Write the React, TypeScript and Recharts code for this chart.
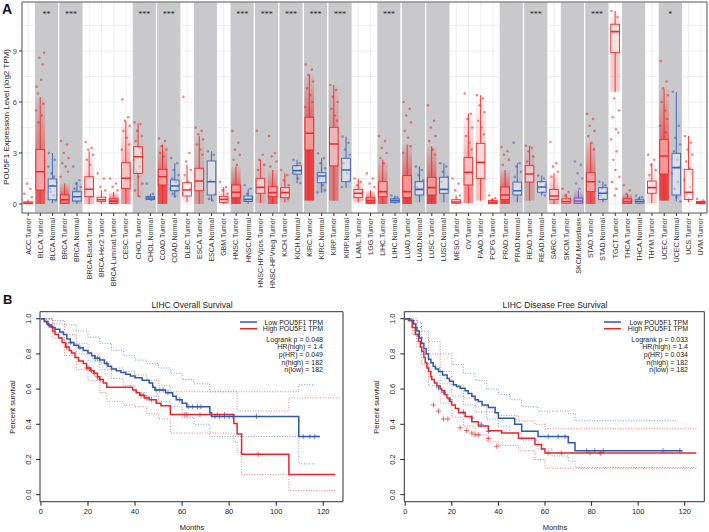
import React from "react";
import { ComposedChart, Bar, Line, Scatter, XAxis, YAxis, CartesianGrid, ReferenceArea } from "recharts";

const FONT = '"Liberation Sans", Arial, sans-serif';

// ---- Panel A: POU5F1 expression across TCGA types ----
const cancerTypes = [
  "ACC.Tumor", "BLCA.Tumor", "BLCA.Normal", "BRCA.Tumor", "BRCA.Normal", "BRCA-Basal.Tumor", "BRCA-Her2.Tumor",
  "BRCA-Luminal.Tumor", "CESC.Tumor", "CHOL.Tumor", "CHOL.Normal", "COAD.Tumor", "COAD.Normal", "DLBC.Tumor",
  "ESCA.Tumor", "ESCA.Normal", "GBM.Tumor", "HNSC.Tumor", "HNSC.Normal", "HNSC-HPVpos.Tumor", "HNSC-HPVneg.Tumor",
  "KICH.Tumor", "KICH.Normal", "KIRC.Tumor", "KIRC.Normal", "KIRP.Tumor", "KIRP.Normal", "LAML.Tumor", "LGG.Tumor",
  "LIHC.Tumor", "LIHC.Normal", "LUAD.Tumor", "LUAD.Normal", "LUSC.Tumor", "LUSC.Normal", "MESO.Tumor", "OV.Tumor",
  "PAAD.Tumor", "PCPG.Tumor", "PRAD.Tumor", "PRAD.Normal", "READ.Tumor", "READ.Normal", "SARC.Tumor", "SKCM.Tumor",
  "SKCM.Metastasis", "STAD.Tumor", "STAD.Normal", "TGCT.Tumor", "THCA.Tumor", "THCA.Normal", "THYM.Tumor",
  "UCEC.Tumor", "UCEC.Normal", "UCS.Tumor", "UVM.Tumor",
];
const lowWhisker = [0, 0, 0.05, 0, 0.02, 0, 0, 0, 0, 0.43, 0.25, 0, 0.4, 0.1, 0, 0.2, 0, 0, 0.02, 0.05, 0, 0.1, 1.22, 0.2, 0.67, 0.2, 0.96, 0.1, 0, 0, 0.02, 0, 0.1, 0, 0.1, 0, 0.05, 0.2, 0, 0, 0.1, 0.2, 0.5, 0, 0, 0, 0, 0.1, 6.6, 0, 0, 0.05, 0.2, 0.15, 0.1, 0];
const q1 = [0.02, 0.82, 0.25, 0.06, 0.18, 0.43, 0.15, 0.05, 0.92, 1.8, 0.27, 1.12, 0.78, 0.47, 0.78, 0.53, 0.1, 0.37, 0.15, 0.63, 0.43, 0.37, 1.76, 3.18, 1.25, 2.24, 1.31, 0.37, 0.08, 0.43, 0.1, 0.39, 0.53, 0.53, 0.63, 0.05, 1.12, 1.51, 0.02, 0.27, 0.53, 1.29, 0.69, 0.27, 0.05, 0.05, 0.73, 0.27, 8.9, 0.05, 0.05, 0.63, 1.76, 0.53, 0.27, 0.02];
const median = [0.06, 1.9, 1.06, 0.24, 0.43, 0.87, 0.25, 0.17, 1.51, 2.78, 0.35, 1.6, 1.06, 0.82, 1.35, 1.31, 0.27, 0.69, 0.27, 0.98, 0.67, 0.67, 1.96, 4.16, 1.65, 3.53, 2.0, 0.63, 0.2, 0.73, 0.2, 0.73, 0.86, 0.96, 0.86, 0.12, 1.86, 2.45, 0.1, 0.53, 0.78, 1.76, 1.0, 0.47, 0.15, 0.18, 1.31, 0.63, 10.14, 0.15, 0.15, 0.96, 2.82, 2.14, 0.69, 0.08];
const q3 = [0.12, 3.2, 1.47, 0.53, 0.72, 1.6, 0.4, 0.3, 2.43, 3.37, 0.45, 2.04, 1.41, 1.25, 2.1, 2.53, 0.45, 1.12, 0.47, 1.51, 1.02, 0.96, 2.25, 5.1, 1.84, 4.51, 2.69, 0.86, 0.37, 1.31, 0.3, 1.67, 1.31, 1.57, 1.57, 0.25, 2.73, 3.57, 0.2, 1.0, 1.29, 2.25, 1.31, 0.86, 0.3, 0.35, 1.84, 0.96, 10.57, 0.3, 0.25, 1.35, 3.8, 2.98, 2.04, 0.15];
const highWhisker = [0.25, 6.3, 3.0, 1.2, 1.3, 3.1, 0.8, 0.7, 4.9, 4.75, 0.6, 3.5, 2.39, 2.3, 4.0, 3.1, 1.0, 2.2, 0.9, 2.6, 2.0, 1.8, 2.6, 7.6, 2.7, 7.0, 3.96, 1.5, 0.8, 2.6, 0.5, 3.5, 2.2, 3.4, 2.4, 0.5, 5.33, 6.4, 0.35, 2.0, 2.4, 3.43, 1.67, 1.8, 0.6, 0.8, 3.6, 1.31, 11.35, 0.6, 0.45, 2.4, 6.75, 6.6, 4.0, 0.2];
const sampleSize = [79, 408, 19, 1093, 112, 190, 82, 566, 304, 36, 9, 457, 41, 48, 184, 11, 153, 520, 44, 97, 421, 66, 25, 533, 72, 290, 32, 173, 516, 371, 50, 515, 59, 501, 51, 87, 303, 178, 179, 497, 52, 166, 10, 259, 103, 368, 415, 35, 150, 509, 59, 120, 545, 35, 57, 80];
const spreadPoints = [
  [0.6, 0.9, 1.2, 0.4], [6.9, 8.2, 8.6, 8.9, 6.5, 7.3, 5.9, 5.5, 5.2, 4.8], [3.0, 2.6, 1.8, 1.3, 0.9, 0.5, 0.2, 2.2, 1.6, 0.7, 1.1],
  [3.7, 3.5, 3.0, 2.7, 2.4, 2.2, 1.9, 1.6], [2.2, 1.4, 1.2, 1.0, 0.9], [3.65, 3.3, 3.2, 2.9, 2.6, 2.3],
  [1.8, 1.5, 1.0, 0.8], [1.5, 1.2, 1.0, 0.8], [6.15, 5.1, 4.9, 4.6, 4.3, 3.9, 3.5, 3.2],
  [4.8, 4.7, 4.3, 4.0, 3.7, 3.3, 3.0, 2.6, 2.2, 1.9, 1.6, 1.2, 0.8, 0.45], [1.2, 0.6, 0.4, 0.3, 0.35, 0.25],
  [3.85, 3.7, 3.4, 3.2, 3.0, 2.8], [2.7, 2.4, 2.0, 1.7, 1.5, 1.3, 1.1, 0.9, 0.8, 0.6, 0.45],
  [6.3, 3.0, 2.5, 2.0, 1.7, 1.3, 0.9, 0.6], [4.5, 4.3, 4.1, 3.8, 3.5, 3.2, 2.9], [3.1, 2.9, 1.4, 0.6, 0.3, 0.2],
  [1.3, 1.0, 0.8, 0.6], [4.3, 3.6, 3.2, 2.9, 2.6, 2.3], [1.1, 0.9, 0.6, 0.4, 0.2], [4.3, 2.9, 2.6, 2.3, 2.0],
  [4.0, 3.0, 2.8, 2.5, 2.2], [2.0, 1.7, 1.4, 1.1, 0.8, 0.5, 0.3], [2.6, 2.4, 2.2, 2.0, 1.8, 1.5, 1.22],
  [8.2, 7.9, 7.6, 7.2, 6.8, 6.4, 6.0, 5.7], [2.98, 2.7, 2.4, 2.1, 1.5, 1.1, 0.8, 0.67], [7.0, 6.7, 6.3, 6.0, 5.6, 5.2, 4.9],
  [3.96, 3.6, 3.2, 2.9, 2.4, 1.8, 1.4, 1.0], [1.5, 1.3, 1.1], [1.8, 1.5, 1.2, 1.0], [4.0, 3.7, 3.3, 3.0, 2.7, 2.4],
  [0.5, 0.4, 0.3], [6.0, 5.6, 5.2, 4.8, 4.3, 3.9, 3.4, 3.0], [2.2, 2.0, 1.7, 1.4, 1.0], [5.8, 4.9, 4.5, 4.0, 3.7, 3.2, 2.9],
  [2.4, 2.2, 1.9, 1.6, 1.3], [1.5, 1.2, 0.8, 0.5], [6.5, 5.3, 5.0, 4.5, 4.0, 3.6, 3.2], [6.4, 6.2, 5.8, 5.4, 4.9, 4.5, 4.1],
  [0.5, 0.35, 0.25], [3.35, 3.1, 2.9, 2.6, 2.3], [3.6, 2.4, 2.2, 1.9, 1.6], [3.43, 3.3, 3.1, 2.8, 2.5],
  [1.67, 1.5, 1.3, 1.1, 0.9, 0.7, 0.5], [3.65, 2.4, 2.2, 1.9, 1.6], [0.9, 0.7, 0.5, 0.3],
  [2.5, 2.3, 1.8, 1.5, 1.2, 0.9], [5.3, 5.0, 4.6, 4.3, 4.0, 3.6, 3.2], [1.31, 1.1, 0.9, 0.7, 0.5, 0.3],
  [11.35, 11.0, 6.2, 5.5, 5.1, 4.4, 4.2, 3.8, 3.1, 2.6, 2.0, 1.6, 1.3, 0.9, 0.5], [1.1, 0.8, 0.6], [0.5, 0.4, 0.3],
  [2.9, 2.6, 2.3, 2.0, 1.7], [8.4, 7.2, 6.8, 6.4, 6.0, 5.5, 5.0, 4.6, 4.2],
  [6.6, 4.6, 3.9, 3.5, 3.1, 2.6, 2.2, 1.8, 1.3, 0.9, 0.4, 0.15],
  [4.0, 3.6, 3.2, 2.9, 2.5, 2.1, 1.8, 1.4, 1.0, 0.6, 0.3], [0.3, 0.2],
];
// tumor/normal pairs shaded grey, with significance stars
const pairs: [string, string, string][] = [
  ["BLCA.Tumor", "BLCA.Normal", "**"], ["BRCA.Tumor", "BRCA.Normal", "***"], ["CHOL.Tumor", "CHOL.Normal", "***"],
  ["COAD.Tumor", "COAD.Normal", "***"], ["ESCA.Tumor", "ESCA.Normal", ""], ["HNSC.Tumor", "HNSC.Normal", "***"],
  ["HNSC-HPVpos.Tumor", "HNSC-HPVneg.Tumor", "***"], ["KICH.Tumor", "KICH.Normal", "***"],
  ["KIRC.Tumor", "KIRC.Normal", "***"], ["KIRP.Tumor", "KIRP.Normal", "***"], ["LIHC.Tumor", "LIHC.Normal", "***"],
  ["LUAD.Tumor", "LUAD.Normal", ""], ["LUSC.Tumor", "LUSC.Normal", ""], ["PRAD.Tumor", "PRAD.Normal", ""],
  ["READ.Tumor", "READ.Normal", "***"], ["SKCM.Tumor", "SKCM.Metastasis", ""], ["STAD.Tumor", "STAD.Normal", "***"],
  ["THCA.Tumor", "THCA.Normal", ""], ["UCEC.Tumor", "UCEC.Normal", "*"],
];
const exprTicks = [0, 3, 6, 9];
const exprGrid = [0, 1.5, 3, 4.5, 6, 7.5, 9, 10.5];

// ---- Panel B: LIHC survival (months, survival) ----
const osLow: [number, number][] = [[0, 1], [1.5, 0.985], [3, 0.965], [4.5, 0.95], [6, 0.94], [8, 0.925], [9.5, 0.91], [11, 0.885], [12.5, 0.865], [14, 0.85], [16, 0.835], [18, 0.82], [20, 0.805], [21.5, 0.79], [23, 0.775], [25, 0.765], [27, 0.745], [28.5, 0.73], [30, 0.715], [32, 0.705], [34, 0.695], [36, 0.685], [38, 0.675], [40, 0.665], [43, 0.65], [46, 0.635], [47.5, 0.61], [48.5, 0.595], [53, 0.58], [56, 0.56], [57.5, 0.54], [60, 0.52], [62, 0.5], [71.8, 0.465], [72.5, 0.445], [109.6, 0.33], [118.6, 0.33]];
const osHigh: [number, number][] = [[0, 1], [1.5, 0.985], [2.5, 0.97], [3.5, 0.955], [5, 0.93], [6, 0.91], [7.5, 0.89], [9, 0.865], [10.5, 0.84], [12, 0.82], [13, 0.805], [14.5, 0.78], [16, 0.76], [18, 0.745], [19.4, 0.72], [21, 0.705], [22.5, 0.69], [24, 0.67], [25, 0.655], [26.5, 0.635], [28, 0.61], [39, 0.595], [40.5, 0.58], [42, 0.565], [44, 0.55], [46, 0.54], [49, 0.52], [51, 0.505], [55, 0.455], [82, 0.405], [83.4, 0.345], [85.3, 0.23], [105.4, 0.115], [125, 0.115]];
const osLowUp: [number, number][] = [[0, 1], [5, 0.99], [10, 0.965], [15, 0.93], [20, 0.895], [25, 0.86], [30, 0.82], [35, 0.79], [40, 0.765], [45, 0.745], [50, 0.72], [55, 0.69], [60, 0.655], [65, 0.63], [71.8, 0.585], [109.6, 0.625], [116.5, 0.625]];
const osLowDn: [number, number][] = [[0, 1], [5, 0.92], [10, 0.86], [15, 0.8], [20, 0.76], [25, 0.71], [30, 0.66], [35, 0.62], [40, 0.58], [45, 0.56], [50, 0.53], [55, 0.5], [60, 0.44], [65, 0.4], [71.8, 0.33], [109.6, 0.175], [116.5, 0.175]];
const osHighUp: [number, number][] = [[0, 1], [5, 0.97], [10, 0.91], [15, 0.86], [20, 0.8], [25, 0.75], [28, 0.72], [35, 0.7], [40, 0.68], [45, 0.65], [50, 0.62], [55, 0.585], [83.4, 0.475], [105.4, 0.55], [127, 0.55]];
const osHighDn: [number, number][] = [[0, 1], [5, 0.89], [10, 0.79], [15, 0.71], [20, 0.65], [25, 0.58], [28, 0.53], [35, 0.51], [40, 0.5], [45, 0.46], [50, 0.43], [55, 0.35], [82, 0.3], [83.4, 0.24], [85.3, 0.115], [105.4, 0.023], [125, 0.023]];
const osLowCens: [number, number][] = [[12.5, 0.865], [16.6, 0.835], [23, 0.775], [24, 0.775], [28, 0.745], [49, 0.595], [50.5, 0.595], [52, 0.595], [54, 0.58], [59, 0.54], [62.6, 0.5], [64.5, 0.5], [66.5, 0.5], [68, 0.5], [74, 0.445], [76, 0.445], [78, 0.445], [80, 0.445], [81.6, 0.445], [91.6, 0.445], [111.5, 0.33], [114.3, 0.33], [116.4, 0.33]];
const osHighCens: [number, number][] = [[10.9, 0.84], [19.5, 0.72], [20.5, 0.72], [21.5, 0.705], [22.7, 0.69], [24, 0.67], [25.2, 0.655], [42.5, 0.565], [43.5, 0.565], [45, 0.55], [47, 0.54], [61.2, 0.455], [62, 0.455], [67.6, 0.455], [72.5, 0.455], [75, 0.455], [78, 0.455], [92.4, 0.23]];

const dfsLow: [number, number][] = [[0, 1], [2, 0.99], [3.6, 0.97], [4.5, 0.95], [5, 0.93], [6, 0.89], [7, 0.86], [8, 0.83], [9, 0.8], [10, 0.77], [11, 0.75], [12, 0.73], [13, 0.715], [14.3, 0.7], [16, 0.68], [18, 0.66], [19, 0.645], [20.7, 0.625], [22, 0.615], [23.6, 0.605], [25.7, 0.59], [27, 0.575], [28.6, 0.56], [30, 0.54], [31.4, 0.53], [33, 0.51], [35.7, 0.495], [38.6, 0.465], [40, 0.435], [47, 0.4], [50, 0.36], [57, 0.33], [70, 0.295], [72.9, 0.25], [119, 0.25]];
const dfsHigh: [number, number][] = [[0, 1], [1.4, 0.99], [3, 0.95], [4.3, 0.91], [5.7, 0.87], [6.5, 0.84], [7.1, 0.815], [8, 0.78], [8.6, 0.75], [9.3, 0.72], [10, 0.7], [11, 0.67], [11.4, 0.655], [12.5, 0.635], [13.6, 0.617], [15, 0.6], [15.7, 0.59], [17, 0.57], [17.9, 0.55], [19, 0.53], [20, 0.51], [21.5, 0.49], [22.9, 0.465], [25.7, 0.445], [28.6, 0.415], [31.4, 0.39], [35.7, 0.364], [41.4, 0.35], [48.6, 0.32], [55.7, 0.285], [58.5, 0.26], [60, 0.237], [125, 0.237]];
const dfsLowUp: [number, number][] = [[0, 1], [3, 1], [5, 0.98], [7, 0.93], [10, 0.87], [15, 0.8], [20, 0.74], [25, 0.69], [30, 0.65], [35, 0.6], [40, 0.57], [45, 0.54], [50, 0.5], [57, 0.475], [70, 0.46], [72.9, 0.42], [117, 0.42]];
const dfsLowDn: [number, number][] = [[0, 1], [3, 0.95], [5, 0.88], [7, 0.8], [10, 0.72], [15, 0.63], [20, 0.56], [25, 0.51], [30, 0.47], [35, 0.43], [40, 0.39], [45, 0.35], [50, 0.31], [57, 0.26], [63, 0.22], [70, 0.19], [72.9, 0.155], [125, 0.155]];
const dfsHighUp: [number, number][] = [[0, 1], [3, 0.99], [5, 0.95], [7, 0.89], [10, 0.8], [15, 0.7], [20, 0.62], [25, 0.55], [30, 0.5], [35, 0.47], [40, 0.45], [48.6, 0.42], [55.7, 0.4], [60, 0.375], [125, 0.375]];
const dfsHighDn: [number, number][] = [[0, 1], [3, 0.91], [5, 0.84], [7, 0.74], [10, 0.62], [15, 0.52], [20, 0.44], [25, 0.39], [30, 0.34], [35, 0.3], [40, 0.28], [48.6, 0.25], [55.7, 0.2], [60, 0.15], [125, 0.15]];
const dfsLowCens: [number, number][] = [[14.3, 0.607], [16.4, 0.58], [19.3, 0.54], [25, 0.47], [28.6, 0.435], [32.6, 0.4], [35.7, 0.36], [61.4, 0.33], [65.7, 0.33], [68.6, 0.33], [77.9, 0.25], [81.4, 0.25], [85, 0.25], [110.7, 0.25], [117.9, 0.25]];
const dfsHighCens: [number, number][] = [[12.1, 0.51], [14.3, 0.475], [16.4, 0.43], [18.3, 0.43], [23.6, 0.38], [26.4, 0.365], [28.6, 0.35], [30, 0.34], [31.4, 0.34], [35.7, 0.32], [39.3, 0.275], [61.4, 0.237], [67, 0.237], [79.3, 0.237], [83.6, 0.237], [84, 0.237]];
const monthTicks = [0, 20, 40, 60, 80, 100, 120];
const survTicks = [0, 0.2, 0.4, 0.6, 0.8, 1];
const osStats = ["Logrank p = 0.048", "HR(high) = 1.4", "p(HR) = 0.049", "n(high) = 182", "n(low) = 182"];
const dfsStats = ["Logrank p = 0.033", "HR(high) = 1.4", "p(HR) = 0.034", "n(high) = 182", "n(low) = 182"];

const RED = "#ee2a2c";
const BLUE = "#3a60bd";
const PURPLE = "#7b55b5";
const KM_BLUE = "#2f58ad";
const KM_RED = "#e8262a";
const JIT = [-0.3, 0.2, -0.08, 0.32, -0.2, 0.08, 0.27, -0.34, 0.13, -0.15, 0.02, 0.35, -0.26, 0.1, -0.04];

const colorOf = (name: string) =>
  name.endsWith("Normal") ? BLUE : name.endsWith("Metastasis") ? PURPLE : RED;

const boxData = cancerTypes.map((name, i) => ({
  name,
  range: [lowWhisker[i], highWhisker[i]],
  lo: lowWhisker[i],
  q1: q1[i],
  med: median[i],
  q3: q3[i],
  hi: highWhisker[i],
  n: sampleSize[i],
  pts: spreadPoints[i],
}));

const BoxShape = (props: any) => {
  const { x, y, width, height } = props;
  const d = props.payload ?? props;
  const py = (v: number) => y + (height * (d.hi - v)) / (d.hi - d.lo);
  const cx = x + width / 2;
  const col = colorOf(d.name);
  const a = Math.min(0.85, d.n / 600);
  const cw = width * 0.8;
  const bw = width * 0.72;
  const gid = "fade" + d.name.replace(/[^A-Za-z0-9]/g, "");
  return (
    <g>
      <defs>
        <linearGradient id={gid} x1="0" y1="1" x2="0" y2="0">
          <stop offset="0" stopColor={col} stopOpacity={a * 0.7} />
          <stop offset="1" stopColor={col} stopOpacity={a * 0.08} />
        </linearGradient>
      </defs>
      <rect x={cx - cw / 2} y={py(d.q3)} width={cw} height={Math.max(0.5, py(d.lo) - py(d.q3))} fill={col} fillOpacity={a} />
      <rect x={cx - cw / 2} y={py(d.hi)} width={cw} height={Math.max(0, py(d.q3) - py(d.hi))} fill={`url(#${gid})`} />
      {d.pts.map((v: number, k: number) => (
        <circle key={k} cx={cx + JIT[k % JIT.length] * width} cy={py(v)} r={1.3} fill={col} fillOpacity={0.55} />
      ))}
      <line x1={cx} x2={cx} y1={py(d.hi)} y2={py(d.q3)} stroke={col} strokeWidth={0.9} />
      <line x1={cx} x2={cx} y1={py(d.q1)} y2={py(d.lo)} stroke={col} strokeWidth={0.9} />
      <rect x={cx - bw / 2} y={py(d.q3)} width={bw} height={Math.max(1, py(d.q1) - py(d.q3))} fill="#fff" fillOpacity={0.45} stroke={col} strokeWidth={0.9} />
      <line x1={cx - bw / 2} x2={cx + bw / 2} y1={py(d.med)} y2={py(d.med)} stroke={col} strokeWidth={1.6} />
    </g>
  );
};

const CatTick = ({ x, y, payload }: any) => (
  <text transform={`translate(${x + 2.4},${y}) rotate(-90)`} textAnchor="end" fontSize={7} fill="#333" fontFamily={FONT}>
    {payload.value}
  </text>
);

const SurvTick = ({ x, y, payload }: any) => (
  <text x={x - 3.3} y={y} transform={`rotate(-90 ${x - 3.3} ${y})`} textAnchor="middle" fontSize={7.5} fill="#222" fontFamily={FONT}>
    {Number(payload.value).toFixed(1)}
  </text>
);

const rows = (a: [number, number][]) => a.map(([t, s]) => ({ t, s }));

const Plus = (props: any) => {
  const { cx, cy, fill } = props;
  return <path d={`M${cx - 2.6},${cy}h5.2M${cx},${cy - 2.6}v5.2`} stroke={fill} strokeOpacity={0.75} strokeWidth={0.9} fill="none" />;
};

type KMProps = {
  w: number; yAxisW: number; marginRight: number;
  low: [number, number][]; high: [number, number][];
  lowUp: [number, number][]; lowDn: [number, number][];
  highUp: [number, number][]; highDn: [number, number][];
  lowCens: [number, number][]; highCens: [number, number][];
};

const KMChart = (p: KMProps) => (
  <ComposedChart width={p.w} height={242} margin={{ top: 21.7, right: p.marginRight, left: 0, bottom: 0 }}>
    <XAxis type="number" dataKey="t" domain={[-0.4, 128.4]} ticks={monthTicks} allowDataOverflow
      axisLine={false} tickSize={4} tickMargin={3} tickLine={{ stroke: "#222" }} height={30.3}
      tick={{ fontSize: 7.5, fill: "#222", fontFamily: FONT }} />
    <YAxis type="number" domain={[-0.04, 1.04]} ticks={survTicks} allowDataOverflow width={p.yAxisW}
      axisLine={false} tickSize={4} tickLine={{ stroke: "#222" }} tick={<SurvTick />} />
    <Line data={rows(p.lowUp)} dataKey="s" type="stepAfter" stroke="#6f8fd6" strokeWidth={0.9} strokeDasharray="1 1.6" dot={false} isAnimationActive={false} />
    <Line data={rows(p.lowDn)} dataKey="s" type="stepAfter" stroke="#6f8fd6" strokeWidth={0.9} strokeDasharray="1 1.6" dot={false} isAnimationActive={false} />
    <Line data={rows(p.highUp)} dataKey="s" type="stepAfter" stroke="#f27272" strokeWidth={0.9} strokeDasharray="1 1.6" dot={false} isAnimationActive={false} />
    <Line data={rows(p.highDn)} dataKey="s" type="stepAfter" stroke="#f27272" strokeWidth={0.9} strokeDasharray="1 1.6" dot={false} isAnimationActive={false} />
    <Line data={rows(p.high)} dataKey="s" type="stepAfter" stroke={KM_RED} strokeWidth={1.5} dot={false} isAnimationActive={false} />
    <Line data={rows(p.low)} dataKey="s" type="stepAfter" stroke={KM_BLUE} strokeWidth={1.5} dot={false} isAnimationActive={false} />
    <Scatter data={rows(p.highCens)} dataKey="s" fill={KM_RED} shape={Plus} isAnimationActive={false} />
    <Scatter data={rows(p.lowCens)} dataKey="s" fill={KM_BLUE} shape={Plus} isAnimationActive={false} />
    <ReferenceArea x1={-0.4} x2={128.4} y1={-0.04} y2={1.04} fill="none" stroke="#333" strokeWidth={1} ifOverflow="visible" />
  </ComposedChart>
);

const Legend = ({ lineX, textX, stats }: { lineX: number; textX: number; stats: string[] }) => (
  <g fontFamily={FONT} fontSize={7} fill="#222">
    <line x1={lineX} x2={lineX + 17} y1={322} y2={322} stroke={KM_BLUE} strokeWidth={1.5} />
    <line x1={lineX} x2={lineX + 17} y1={328.7} y2={328.7} stroke={KM_RED} strokeWidth={1.5} />
    <text x={textX} y={324.5} textAnchor="end">Low POU5F1 TPM</text>
    <text x={textX} y={331.2} textAnchor="end">High POU5F1 TPM</text>
    {stats.map((s, i) => (
      <text key={s} x={textX} y={341.8 + i * 7.6} textAnchor="end">{s}</text>
    ))}
  </g>
);

export default function App() {
  return (
    <div style={{ position: "absolute", left: 0, top: 0, width: 709, height: 532, background: "#fff", overflow: "hidden" }}>
      <div style={{ position: "absolute", left: 0, top: 0 }}>
        <ComposedChart width={709} height={292} data={boxData} margin={{ top: 2, right: 2, left: 8, bottom: 0 }} barCategoryGap={0}>
          <CartesianGrid stroke="#ebebeb" strokeWidth={0.8} horizontalValues={exprGrid} />
          {pairs.map(([a, b, sig]) => (
            <ReferenceArea key={a} x1={a} x2={b} fill="#c9c9cb" fillOpacity={1} stroke="#fff" strokeWidth={1.2}
              label={{ value: sig, position: "insideTop", offset: 9, fontSize: 8, fill: "#222" }} />
          ))}
          <XAxis dataKey="name" interval={0} tick={<CatTick />} tickSize={3} tickLine={{ stroke: "#333" }} axisLine={false} height={79} />
          <YAxis type="number" domain={[-0.53, 11.88]} ticks={exprTicks} allowDataOverflow width={14}
            tickSize={3} tickLine={{ stroke: "#333" }} axisLine={false}
            tick={{ fontSize: 7.5, fill: "#444", fontFamily: FONT }} />
          <Bar dataKey="range" shape={BoxShape} isAnimationActive={false} />
          <ReferenceArea x1="ACC.Tumor" x2="UVM.Tumor" y1={-0.53} y2={11.88} fill="none" stroke="#555" strokeWidth={1} ifOverflow="visible" />
        </ComposedChart>
      </div>
      <div style={{ position: "absolute", left: 0, top: 290 }}>
        <KMChart w={355} yAxisW={40} marginRight={12} low={osLow} high={osHigh} lowUp={osLowUp} lowDn={osLowDn}
          highUp={osHighUp} highDn={osHighDn} lowCens={osLowCens} highCens={osHighCens} />
      </div>
      <div style={{ position: "absolute", left: 355, top: 290 }}>
        <KMChart w={354} yAxisW={49.3} marginRight={4.7} low={dfsLow} high={dfsHigh} lowUp={dfsLowUp} lowDn={dfsLowDn}
          highUp={dfsHighUp} highDn={dfsHighDn} lowCens={dfsLowCens} highCens={dfsHighCens} />
      </div>
      <svg width={709} height={532} style={{ position: "absolute", left: 0, top: 0, pointerEvents: "none" }}>
        <text x={2} y={14} fontFamily={FONT} fontWeight="bold" fontSize={14} fill="#111">A</text>
        <text x={9} y={117} transform="rotate(-90 9 117)" textAnchor="middle" fontFamily={FONT} fontSize={8} fill="#222">
          POU5F1 Expression Level (log2 TPM)
        </text>
        <text x={3} y={304} fontFamily={FONT} fontWeight="bold" fontSize={13} fill="#111">B</text>
        <text x={192} y={308} textAnchor="middle" fontFamily={FONT} fontSize={8.5} fill="#222">LIHC Overall Survival</text>
        <text x={555} y={308} textAnchor="middle" fontFamily={FONT} fontSize={8.5} fill="#222">LIHC Disease Free Survival</text>
        <text x={192} y={530} textAnchor="middle" fontFamily={FONT} fontSize={7.5} fill="#222">Months</text>
        <text x={555} y={530} textAnchor="middle" fontFamily={FONT} fontSize={7.5} fill="#222">Months</text>
        <text x={14.8} y={407} transform="rotate(-90 14.8 407)" textAnchor="middle" fontFamily={FONT} fontSize={7.5} fill="#222">Percent survival</text>
        <text x={378.7} y={407} transform="rotate(-90 378.7 407)" textAnchor="middle" fontFamily={FONT} fontSize={7.5} fill="#222">Percent survival</text>
        <Legend lineX={240} textX={323} stats={osStats} />
        <Legend lineX={604} textX={688} stats={dfsStats} />
      </svg>
    </div>
  );
}
